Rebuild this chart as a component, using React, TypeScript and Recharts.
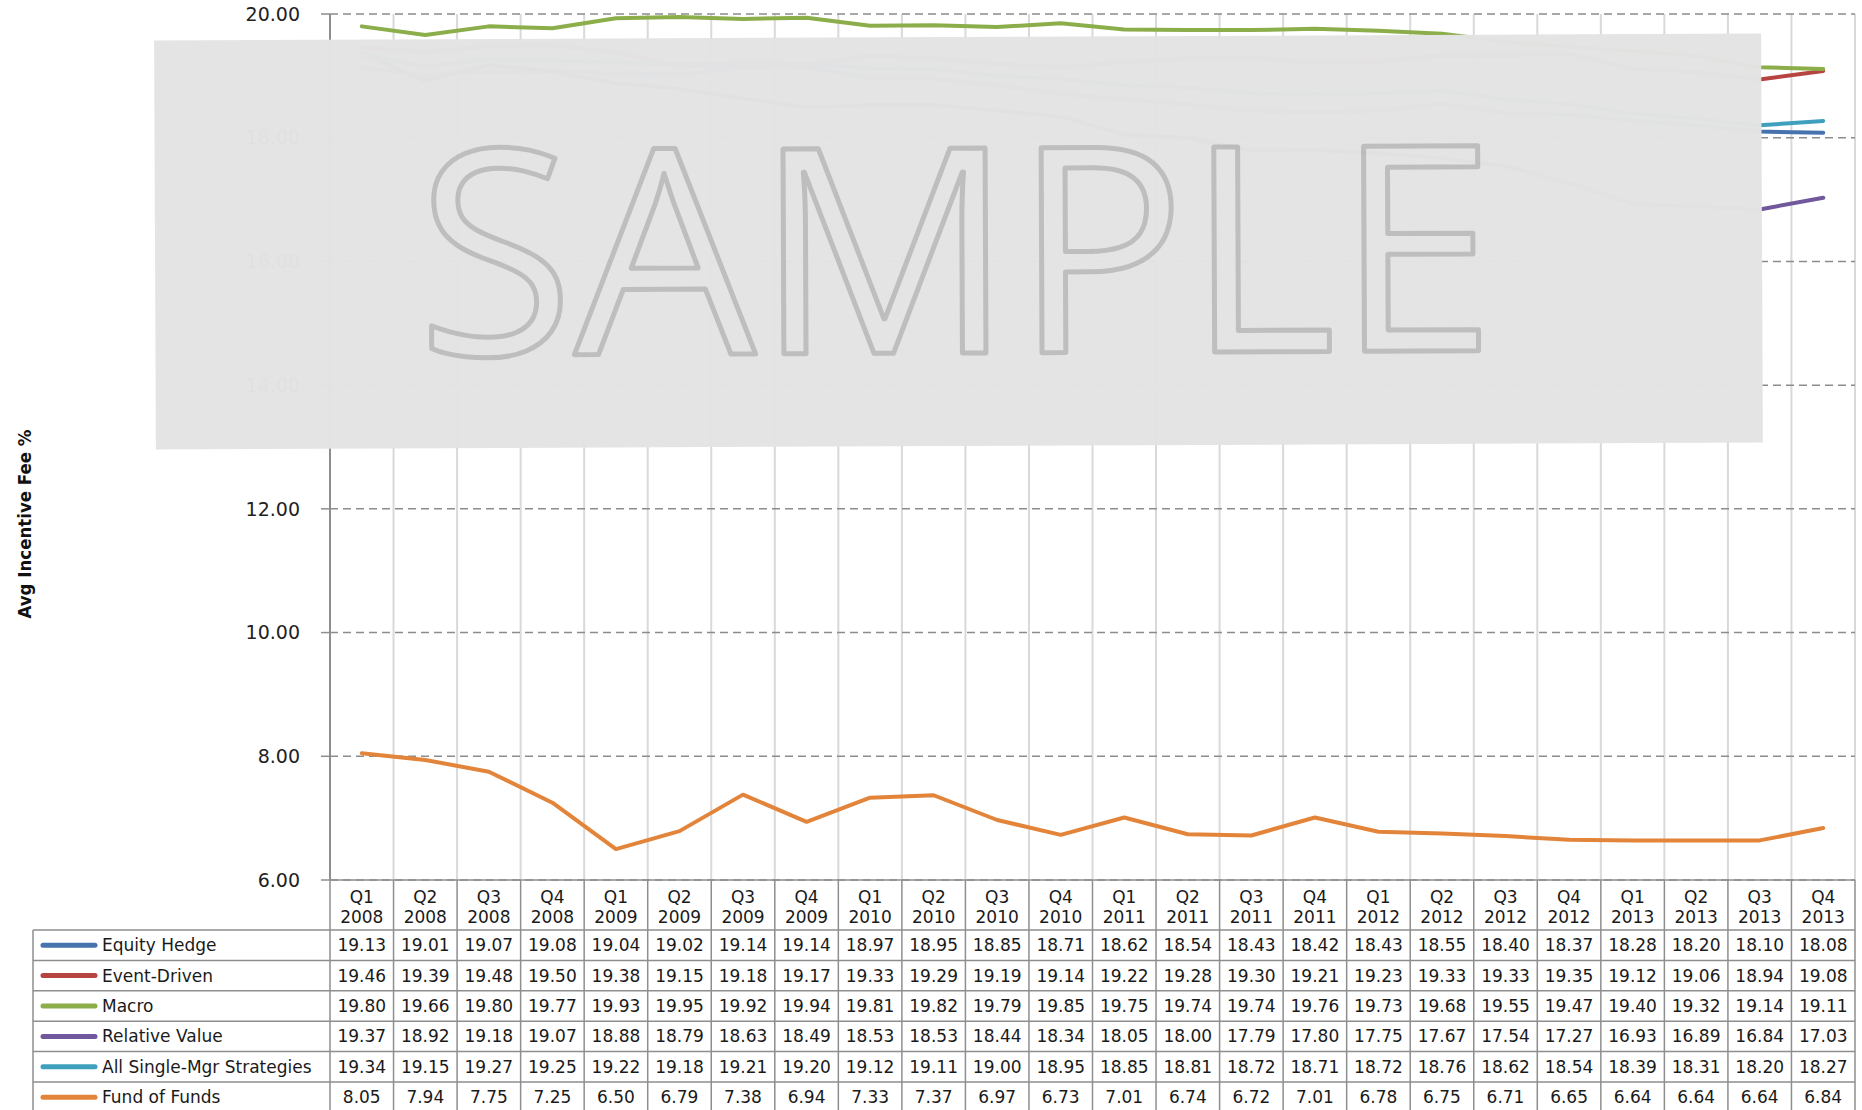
import React from 'react';
import { LineChart, Line, XAxis, YAxis, CartesianGrid, Label } from 'recharts';

const quarters = [
  'Q1 2008', 'Q2 2008', 'Q3 2008', 'Q4 2008',
  'Q1 2009', 'Q2 2009', 'Q3 2009', 'Q4 2009',
  'Q1 2010', 'Q2 2010', 'Q3 2010', 'Q4 2010',
  'Q1 2011', 'Q2 2011', 'Q3 2011', 'Q4 2011',
  'Q1 2012', 'Q2 2012', 'Q3 2012', 'Q4 2012',
  'Q1 2013', 'Q2 2013', 'Q3 2013', 'Q4 2013',
];

const equityHedge = [19.13, 19.01, 19.07, 19.08, 19.04, 19.02, 19.14, 19.14, 18.97, 18.95, 18.85, 18.71, 18.62, 18.54, 18.43, 18.42, 18.43, 18.55, 18.40, 18.37, 18.28, 18.20, 18.10, 18.08];
const eventDriven = [19.46, 19.39, 19.48, 19.50, 19.38, 19.15, 19.18, 19.17, 19.33, 19.29, 19.19, 19.14, 19.22, 19.28, 19.30, 19.21, 19.23, 19.33, 19.33, 19.35, 19.12, 19.06, 18.94, 19.08];
const macro = [19.80, 19.66, 19.80, 19.77, 19.93, 19.95, 19.92, 19.94, 19.81, 19.82, 19.79, 19.85, 19.75, 19.74, 19.74, 19.76, 19.73, 19.68, 19.55, 19.47, 19.40, 19.32, 19.14, 19.11];
const relativeValue = [19.37, 18.92, 19.18, 19.07, 18.88, 18.79, 18.63, 18.49, 18.53, 18.53, 18.44, 18.34, 18.05, 18.00, 17.79, 17.80, 17.75, 17.67, 17.54, 17.27, 16.93, 16.89, 16.84, 17.03];
const allSingleMgr = [19.34, 19.15, 19.27, 19.25, 19.22, 19.18, 19.21, 19.20, 19.12, 19.11, 19.00, 18.95, 18.85, 18.81, 18.72, 18.71, 18.72, 18.76, 18.62, 18.54, 18.39, 18.31, 18.20, 18.27];
const fundOfFunds = [8.05, 7.94, 7.75, 7.25, 6.50, 6.79, 7.38, 6.94, 7.33, 7.37, 6.97, 6.73, 7.01, 6.74, 6.72, 7.01, 6.78, 6.75, 6.71, 6.65, 6.64, 6.64, 6.64, 6.84];

const yTicks = [6, 8, 10, 12, 14, 16, 18, 20];

const series = [
  { key: 'eh', name: 'Equity Hedge', values: equityHedge, color: '#4672ad' },
  { key: 'ed', name: 'Event-Driven', values: eventDriven, color: '#b64441' },
  { key: 'ma', name: 'Macro', values: macro, color: '#8cae4a' },
  { key: 'rv', name: 'Relative Value', values: relativeValue, color: '#71579b' },
  { key: 'as', name: 'All Single-Mgr Strategies', values: allSingleMgr, color: '#3fa0bd' },
  { key: 'ff', name: 'Fund of Funds', values: fundOfFunds, color: '#e3843b' },
];

const data = quarters.map((q, i) => {
  const row: Record<string, any> = { q };
  series.forEach((s) => (row[s.key] = s.values[i]));
  return row;
});

const W = 1862;
const H = 1110;
const M_TOP = 14;
const M_RIGHT = 7;
const Y_W = 330;
const X_H = 230;
const BW = (W - M_RIGHT - Y_W) / quarters.length;
const HEAD_H = 50;
const ROW_H = 30.4;
const TABLE_LEFT = 33;
const LINE_GRAY = '#8e8e8e';
const FONT = "'DejaVu Sans', sans-serif";

// data table under the axis, one column per category
const TableTick = (props: any) => {
  const { x, y, index } = props;
  const left = x - BW / 2;
  const last = quarters.length - 1;
  const [q, yr] = quarters[index].split(' ');
  const rowsRight = x + (last - index + 0.5) * BW;
  return (
    <g>
      <line x1={left} y1={y} x2={left} y2={y + X_H} stroke={LINE_GRAY} strokeWidth={1.5} />
      {index === last && (
        <line x1={left + BW} y1={y} x2={left + BW} y2={y + X_H} stroke={LINE_GRAY} strokeWidth={1.5} />
      )}
      <text x={x} y={y + 17} textAnchor="middle" dominantBaseline="central" fontSize={17} fontFamily={FONT} fill="#1a1a1a">{q}</text>
      <text x={x} y={y + 37} textAnchor="middle" dominantBaseline="central" fontSize={17} fontFamily={FONT} fill="#1a1a1a">{yr}</text>
      {series.map((s, r) => (
        <text key={s.key} x={x} y={y + HEAD_H + ROW_H * (r + 0.5)} textAnchor="middle" dominantBaseline="central" fontSize={17} fontFamily={FONT} fill="#1a1a1a">
          {s.values[index].toFixed(2)}
        </text>
      ))}
      {index === 0 && (
        <g>
          {series.map((_, r) => (
            <line key={r} x1={TABLE_LEFT} y1={y + HEAD_H + ROW_H * r} x2={rowsRight} y2={y + HEAD_H + ROW_H * r} stroke={LINE_GRAY} strokeWidth={1.5} />
          ))}
          <line x1={TABLE_LEFT} y1={y + HEAD_H} x2={TABLE_LEFT} y2={y + X_H} stroke={LINE_GRAY} strokeWidth={1.5} />
          {series.map((s, r) => {
            const cy = y + HEAD_H + ROW_H * (r + 0.5);
            return (
              <g key={s.key}>
                <line x1={TABLE_LEFT + 10} y1={cy} x2={TABLE_LEFT + 62} y2={cy} stroke={s.color} strokeWidth={5} strokeLinecap="round" />
                <text x={TABLE_LEFT + 69} y={cy} dominantBaseline="central" fontSize={17} fontFamily={FONT} fill="#1a1a1a">{s.name}</text>
              </g>
            );
          })}
        </g>
      )}
    </g>
  );
};

const boundaries = ({ offset }: any) =>
  quarters.map((_, i) => offset.left + i * (offset.width / quarters.length)).concat(offset.left + offset.width);

export default function App() {
  return (
    <div style={{ position: 'absolute', left: 0, top: 0, width: W, height: H, background: '#fff', overflow: 'hidden' }}>
      <LineChart width={W} height={H} data={data} margin={{ top: M_TOP, right: M_RIGHT, bottom: 0, left: 0 }}>
        <CartesianGrid horizontal={false} verticalCoordinatesGenerator={boundaries} stroke="#d9d9d9" strokeWidth={2} />
        <CartesianGrid vertical={false} stroke="#8c8c8c" strokeDasharray="8 5" strokeWidth={1.5} />
        <XAxis
          dataKey="q"
          height={X_H}
          interval={0}
          padding={{ left: BW / 2, right: BW / 2 }}
          tickLine={false}
          tickSize={0}
          tickMargin={0}
          tick={<TableTick />}
          axisLine={{ stroke: LINE_GRAY, strokeWidth: 1.5 }}
        />
        <YAxis
          width={Y_W}
          domain={[6, 20]}
          ticks={yTicks}
          interval={0}
          tickFormatter={(v: number) => v.toFixed(2)}
          tick={{ fontSize: 19, fontFamily: FONT, fill: '#222' }}
          tickSize={9}
          tickMargin={21}
          tickLine={{ stroke: LINE_GRAY, strokeWidth: 1.5 }}
          axisLine={{ stroke: LINE_GRAY, strokeWidth: 2 }}
        >
          <Label
            content={({ viewBox }: any) => (
              <text
                x={viewBox.x + 24}
                y={viewBox.y + 510}
                transform={`rotate(-90 ${viewBox.x + 24} ${viewBox.y + 510})`}
                textAnchor="middle"
                dominantBaseline="central"
                fontSize={18.5}
                fontWeight="bold"
                fontFamily="'DejaVu Sans Condensed', 'Liberation Sans Narrow', sans-serif"
                fill="#111"
              >
                Avg Incentive Fee %
              </text>
            )}
          />
        </YAxis>
        {series.map((s) => (
          <Line
            key={s.key}
            type="linear"
            dataKey={s.key}
            name={s.name}
            stroke={s.color}
            strokeWidth={4}
            strokeLinecap="round"
            strokeLinejoin="round"
            dot={false}
            activeDot={false}
            isAnimationActive={false}
          />
        ))}
      </LineChart>
      <div
        style={{
          position: 'absolute',
          left: 155,
          top: 37,
          width: 1607,
          height: 409,
          background: '#e4e4e4',
          opacity: 0.985,
          transform: 'rotate(-0.25deg)',
          overflow: 'hidden',
        }}
      >
        <svg width={1607} height={409} style={{ display: 'block' }}>
          <text
            x={801}
            y={316}
            textAnchor="middle"
            fontSize={287}
            fontFamily="'Open Sans', sans-serif"
            fill="#e4e4e4"
            stroke="#bdbdbd"
            strokeWidth={5}
            strokeLinejoin="round"
          >
            SAMPLE
          </text>
        </svg>
      </div>
    </div>
  );
}
